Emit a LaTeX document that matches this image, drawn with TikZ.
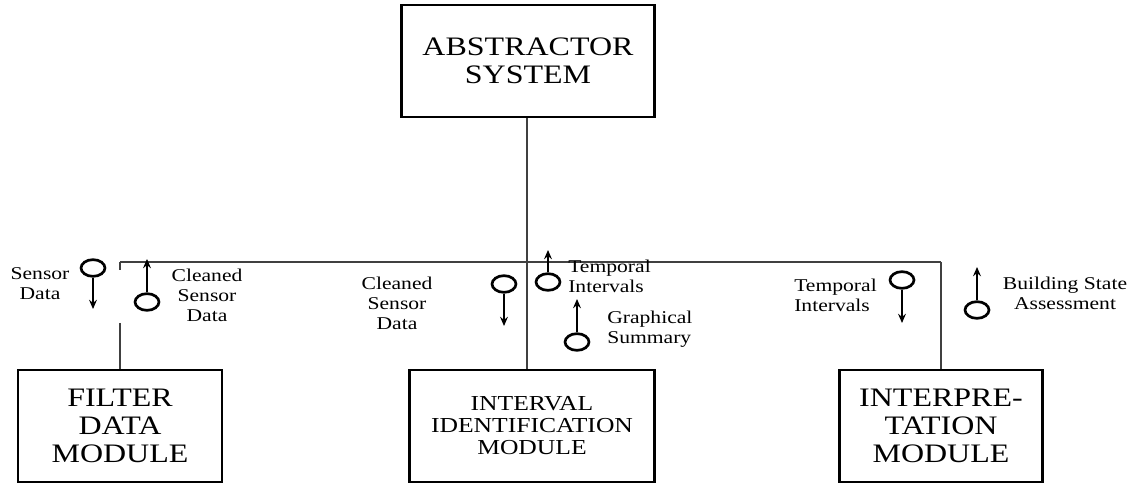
\documentclass[tikz,border=0pt]{standalone}
\usepackage{fontspec}
\setmainfont{Liberation Serif}[FakeStretch=1.2]
\usetikzlibrary{shapes.geometric,arrows.meta}
\begin{document}
\begin{tikzpicture}[x=0.75pt,y=-0.75pt,
  modbox/.style={rectangle, draw, line width=2pt, align=center, minimum height=84pt,
    font=\fontsize{20}{21}\selectfont},
  lolly/.style={ellipse, draw, line width=2pt, minimum width=18pt, minimum height=12.5pt, inner sep=0pt},
  lbl/.style={align=center, inner sep=0pt, font=\fontsize{13.5}{15}\selectfont},
  wire/.style={draw=black!75, line width=0.9pt},
  flow/.style={line width=0.9pt, -{Stealth[length=7pt,width=6pt,inset=2.5pt]}}]
  \useasboundingbox (0,0) rectangle (1132,484);

  % modules
  \node[modbox, minimum width=190pt] (abs) at (528,61) {ABSTRACTOR\\SYSTEM};
  \node[modbox, minimum width=153pt] (filt) at (120,426) {FILTER\\DATA\\MODULE};
  \node[modbox, minimum width=184pt, font=\fontsize{16}{16.5}\selectfont] (intv) at (532,426) {INTERVAL\\IDENTIFICATION\\MODULE};
  \node[modbox, minimum width=152pt] (intp) at (941,426) {INTERPRE-\\TATION\\MODULE};

  % tree
  \coordinate (hub) at (527,262);
  \coordinate (hl) at (120,262);
  \coordinate (hr) at (941,262);
  \coordinate (gapa) at (120,270);
  \coordinate (gapb) at (120,323);
  \draw[wire] (abs.south -| hub) -- (hub);
  \draw[wire] (hl) -- (hr);
  \draw[wire] (hl) -- (gapa);
  \draw[wire] (gapb) -- (filt.north);
  \draw[wire] (hub) -- (hub |- intv.north);
  \draw[wire] (hr) -- (intp.north);

  % flows
  \node[lolly] (sd) at (93,268) {};
  \coordinate (sdt) at (93,309);
  \node[lolly] (csd) at (147,302) {};
  \coordinate (csdt) at (147,259);
  \node[lolly] (csdm) at (504,284) {};
  \coordinate (csdmt) at (504,326);
  \node[lolly] (ti) at (548,282) {};
  \coordinate (tit) at (548,250);
  \node[lolly] (gs) at (577,342) {};
  \coordinate (gst) at (577,299);
  \node[lolly] (tir) at (902,280) {};
  \coordinate (tirt) at (902,323);
  \node[lolly] (bsa) at (977,310) {};
  \coordinate (bsat) at (977,267);

  \draw[flow] (sd) -- (sdt);
  \draw[flow] (csd) -- (csdt);
  \draw[flow] (csdm) -- (csdmt);
  \draw[flow] (ti) -- (tit);
  \draw[flow] (gs) -- (gst);
  \draw[flow] (tir) -- (tirt);
  \draw[flow] (bsa) -- (bsat);

  % labels
  \node[lbl] (sdl) at (40,284) {Sensor\\Data};
  \node[lbl] (csdl) at (207,295) {Cleaned\\Sensor\\Data};
  \node[lbl] (csdml) at (397,303) {Cleaned\\Sensor\\Data};
  \node[lbl, anchor=west, align=left] (til) at (568,276) {Temporal\\Intervals};
  \node[lbl, anchor=west, align=left] (gsl) at (607,329) {Graphical\\Summary};
  \node[lbl, anchor=east, align=left] (tirl) at (877,295) {Temporal\\Intervals};
  \node[lbl] (bsal) at (1065,293) {Building State\\Assessment};
\end{tikzpicture}
\end{document}
